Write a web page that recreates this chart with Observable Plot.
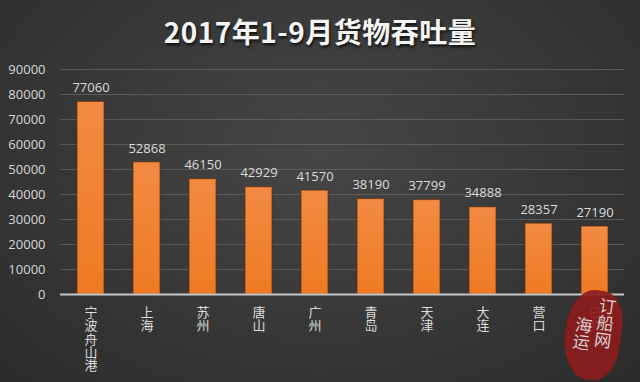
<!DOCTYPE html>
<html>
<head>
<meta charset="utf-8">
<script src="https://cdn.jsdelivr.net/npm/d3@7"></script>
<script src="https://cdn.jsdelivr.net/npm/@observablehq/plot@0.6"></script>
<style>
  html, body { margin: 0; padding: 0; }
  #wrap {
    position: relative;
    width: 640px; height: 382px; overflow: hidden;
    background: radial-gradient(ellipse at 50% 40%, #464646 0%, #3a3a3a 45%, #2b2b2b 100%);
    font-family: "Noto Sans CJK SC", "Open Sans", sans-serif;
  }
  #title {
    height: 55px; line-height: 62px; text-align: center;
    color: #f4f4f4; font-size: 28px; font-weight: bold;
    text-shadow: 1px 2px 3px rgba(0,0,0,0.8);
    letter-spacing: 0.5px;
  }
  #stamp {
    position: absolute; left: 565px; top: 290px; width: 56px; height: 90px;
    background: #8c1c1c; border-radius: 45% 40% 40% 50%;
    transform: rotate(8deg); opacity: 0.92;
    color: #e8dcdc; font-size: 17px; line-height: 19px;
    font-family: "Noto Sans CJK SC", sans-serif;
    display: flex; flex-direction: row-reverse; justify-content: center; gap: 2px; padding-top: 6px;
    box-sizing: border-box;
  }
  #stamp span { writing-mode: vertical-rl; }
  svg text.vlabel { writing-mode: vertical-rl; text-anchor: start; letter-spacing: 0.3px; }
</style>
</head>
<body>
<div id="wrap">
  <div id="title">2017年1-9月货物吞吐量</div>
  <div id="chart"></div>
  <div id="stamp"><span>订船网</span><span style="padding-top:22px">海运</span></div>
</div>
<script>
const ports = ["宁波舟山港", "上海", "苏州", "唐山", "广州", "青岛", "天津", "大连", "营口", "日照"];
const volumes = [77060, 52868, 46150, 42929, 41570, 38190, 37799, 34888, 28357, 27190];
const yTicks = [0, 10000, 20000, 30000, 40000, 50000, 60000, 70000, 80000, 90000];

const data = ports.map((p, i) => ({port: p, value: volumes[i]}));

const defs = () => {
  const d = d3.create("svg:defs");
  const g = d.append("linearGradient").attr("id", "barGrad").attr("x1", 0).attr("y1", 0).attr("x2", 0).attr("y2", 1);
  g.append("stop").attr("offset", "0%").attr("stop-color", "#f38a42");
  g.append("stop").attr("offset", "100%").attr("stop-color", "#ef7a22");
  return d.node();
};

const chart = Plot.plot({
  width: 640,
  height: 327,
  marginTop: 14,
  marginBottom: 88,
  marginLeft: 60,
  marginRight: 16,
  style: {background: "transparent", color: "#d8d8d8", fontSize: "13px", fontFamily: "'Open Sans', 'Noto Sans CJK SC', sans-serif"},
  x: {domain: ports, paddingInner: 0.52, paddingOuter: 0.26, label: null},
  y: {domain: [0, 90000], label: null},
  marks: [
    defs,
    Plot.gridY(yTicks, {stroke: "#666666", strokeOpacity: 0.75, strokeWidth: 1}),
    Plot.axisY(yTicks, {tickSize: 0, tickPadding: 15, tickFormat: d => String(d), fill: "#d8d8d8", fontSize: 13}),
    Plot.barY(data, {x: "port", y: "value", fill: "url(#barGrad)", stroke: "#5a2a0e", strokeWidth: 1.2, strokeOpacity: 0.6}),
    Plot.ruleY([0], {stroke: "#c8c8c8", strokeWidth: 2}),
    Plot.text(data, {x: "port", y: "value", text: d => String(d.value), dy: -14, fill: "#dcdcdc", fontSize: 13}),
    Plot.axisX(ports, {tickSize: 0, tickPadding: 2, fill: "#dcdcdc", fontSize: 13, fontFamily: "'Noto Sans CJK SC', sans-serif"})
  ]
});
// Category labels in vertical (top-to-bottom) writing mode, as in the reference
d3.select(chart).selectAll("text")
  .filter(function() { return ports.includes(this.textContent); })
  .attr("dy", null)
  .attr("text-anchor", "start")
  .classed("vlabel", true);
document.getElementById("chart").appendChild(chart);
</script>
</body>
</html>
